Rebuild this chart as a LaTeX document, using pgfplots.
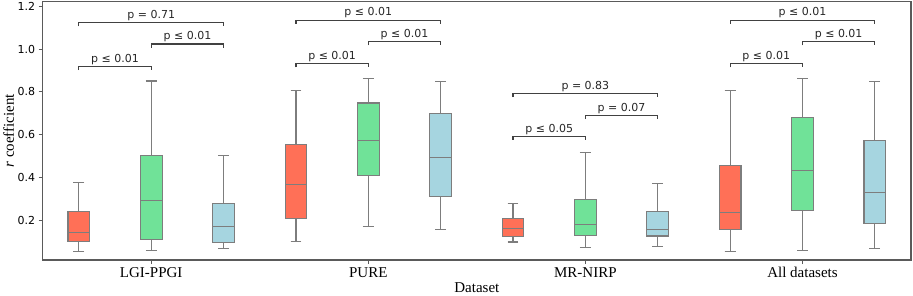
\documentclass[border=0pt]{standalone}
\usepackage{fontspec}
\setmainfont{Liberation Serif}
\newfontfamily\djv{DejaVu Sans}
\usepackage{pgfplots}
\pgfplotsset{compat=1.18}
\usepgfplotslibrary{statistics}
\definecolor{cR}{RGB}{255,112,87}
\definecolor{cG}{RGB}{112,226,152}
\definecolor{cB}{RGB}{166,213,224}
\definecolor{edge}{RGB}{125,125,125}
\definecolor{brk}{RGB}{65,65,65}
\definecolor{spine}{RGB}{90,90,90}
\begin{document}
\begin{tikzpicture}
\useasboundingbox (0,0) rectangle (913pt,295pt);
\begin{axis}[
  at={(42.7pt,35pt)}, anchor=south west,
  width=868.3pt, height=258.3pt, scale only axis,
  xmin=-0.5, xmax=3.5, ymin=0.014, ymax=1.2215,
  clip=false,
  axis line style={spine, line width=1.1pt},
  tick pos=left, tick align=outside, major tick length=4pt,
  tick style={spine, line width=1pt},
  xtick={0,1,2,3},
  xticklabels={LGI-PPGI,PURE,MR-NIRP,All datasets},
  xticklabel style={font=\fontsize{15}{15}\selectfont},
  ytick={0.2,0.4,0.6,0.8,1.0,1.2},
  yticklabels={0.2,0.4,0.6,0.8,1.0,1.2},
  yticklabel style={font=\djv\fontsize{11}{11}\selectfont},
  xlabel={Dataset},
  ylabel={{\itshape r} coefficient},
  every axis x label/.style={at={(axis description cs:0.5,-0.127)}, anchor=base, font=\fontsize{15}{15}\selectfont},
  every axis y label/.style={at={(axis description cs:-0.0392,0.5)}, rotate=90, anchor=center, font=\fontsize{15}{15}\selectfont},
  boxplot/draw direction=y,
  boxplot/box extend=0.1,
  boxplot/whisker extend=0.05,
]
% LGI-PPGI
\addplot[mark=none, fill=cR, draw=edge, line width=1.1pt, boxplot prepared={draw position=-0.3333, lower whisker=0.053, lower quartile=0.102, median=0.144, upper quartile=0.242, upper whisker=0.378}] coordinates {};
\addplot[mark=none, fill=cG, draw=edge, line width=1.1pt, boxplot prepared={draw position=0, lower whisker=0.060, lower quartile=0.108, median=0.294, upper quartile=0.504, upper whisker=0.851}] coordinates {};
\addplot[mark=none, fill=cB, draw=edge, line width=1.1pt, boxplot prepared={draw position=0.3333, lower whisker=0.069, lower quartile=0.097, median=0.172, upper quartile=0.280, upper whisker=0.501}] coordinates {};
% PURE
\addplot[mark=none, fill=cR, draw=edge, line width=1.1pt, boxplot prepared={draw position=0.6667, lower whisker=0.102, lower quartile=0.207, median=0.367, upper quartile=0.553, upper whisker=0.806}] coordinates {};
\addplot[mark=none, fill=cG, draw=edge, line width=1.1pt, boxplot prepared={draw position=1, lower whisker=0.172, lower quartile=0.407, median=0.573, upper quartile=0.748, upper whisker=0.862}] coordinates {};
\addplot[mark=none, fill=cB, draw=edge, line width=1.1pt, boxplot prepared={draw position=1.3333, lower whisker=0.156, lower quartile=0.312, median=0.492, upper quartile=0.697, upper whisker=0.848}] coordinates {};
% MR-NIRP
\addplot[mark=none, fill=cR, draw=edge, line width=1.1pt, boxplot prepared={draw position=1.6667, lower whisker=0.098, lower quartile=0.123, median=0.161, upper quartile=0.209, upper whisker=0.278}] coordinates {};
\addplot[mark=none, fill=cG, draw=edge, line width=1.1pt, boxplot prepared={draw position=2, lower whisker=0.074, lower quartile=0.130, median=0.179, upper quartile=0.298, upper whisker=0.518}] coordinates {};
\addplot[mark=none, fill=cB, draw=edge, line width=1.1pt, boxplot prepared={draw position=2.3333, lower whisker=0.078, lower quartile=0.126, median=0.156, upper quartile=0.242, upper whisker=0.373}] coordinates {};
% All datasets
\addplot[mark=none, fill=cR, draw=edge, line width=1.1pt, boxplot prepared={draw position=2.6667, lower whisker=0.053, lower quartile=0.156, median=0.237, upper quartile=0.456, upper whisker=0.806}] coordinates {};
\addplot[mark=none, fill=cG, draw=edge, line width=1.1pt, boxplot prepared={draw position=3, lower whisker=0.060, lower quartile=0.245, median=0.432, upper quartile=0.681, upper whisker=0.862}] coordinates {};
\addplot[mark=none, fill=cB, draw=edge, line width=1.1pt, boxplot prepared={draw position=3.3333, lower whisker=0.069, lower quartile=0.186, median=0.329, upper quartile=0.573, upper whisker=0.848}] coordinates {};
% brackets
\pgfplotsset{brkst/.style={mark=none, sharp plot, draw=brk, line width=1.2pt}}
\addplot[brkst] coordinates {(-0.3333,0.902) (-0.3333,0.919) (0,0.919) (0,0.902)};
\addplot[brkst] coordinates {(0,1.007) (0,1.024) (0.3333,1.024) (0.3333,1.007)};
\addplot[brkst] coordinates {(-0.3333,1.106) (-0.3333,1.123) (0.3333,1.123) (0.3333,1.106)};
\addplot[brkst] coordinates {(0.6667,0.915) (0.6667,0.932) (1,0.932) (1,0.915)};
\addplot[brkst] coordinates {(1,1.017) (1,1.034) (1.3333,1.034) (1.3333,1.017)};
\addplot[brkst] coordinates {(0.6667,1.118) (0.6667,1.135) (1.3333,1.135) (1.3333,1.118)};
\addplot[brkst] coordinates {(1.6667,0.575) (1.6667,0.592) (2,0.592) (2,0.575)};
\addplot[brkst] coordinates {(2,0.673) (2,0.690) (2.3333,0.690) (2.3333,0.673)};
\addplot[brkst] coordinates {(1.6667,0.775) (1.6667,0.792) (2.3333,0.792) (2.3333,0.775)};
\addplot[brkst] coordinates {(2.6667,0.915) (2.6667,0.932) (3,0.932) (3,0.915)};
\addplot[brkst] coordinates {(3,1.017) (3,1.034) (3.3333,1.034) (3.3333,1.017)};
\addplot[brkst] coordinates {(2.6667,1.118) (2.6667,1.135) (3.3333,1.135) (3.3333,1.118)};
\tikzset{plab/.style={font=\djv\fontsize{11}{11}\selectfont, anchor=base, inner sep=0pt, text=black!85}}
\node[plab] at (axis cs:-0.1667,0.939) {p ≤ 0.01};
\node[plab] at (axis cs:0.1667,1.044) {p ≤ 0.01};
\node[plab] at (axis cs:0,1.143) {p = 0.71};
\node[plab] at (axis cs:0.8333,0.952) {p ≤ 0.01};
\node[plab] at (axis cs:1.1667,1.054) {p ≤ 0.01};
\node[plab] at (axis cs:1,1.155) {p ≤ 0.01};
\node[plab] at (axis cs:1.8333,0.612) {p ≤ 0.05};
\node[plab] at (axis cs:2.1667,0.710) {p = 0.07};
\node[plab] at (axis cs:2,0.812) {p = 0.83};
\node[plab] at (axis cs:2.8333,0.952) {p ≤ 0.01};
\node[plab] at (axis cs:3.1667,1.054) {p ≤ 0.01};
\node[plab] at (axis cs:3,1.155) {p ≤ 0.01};
\end{axis}
\end{tikzpicture}
\end{document}
